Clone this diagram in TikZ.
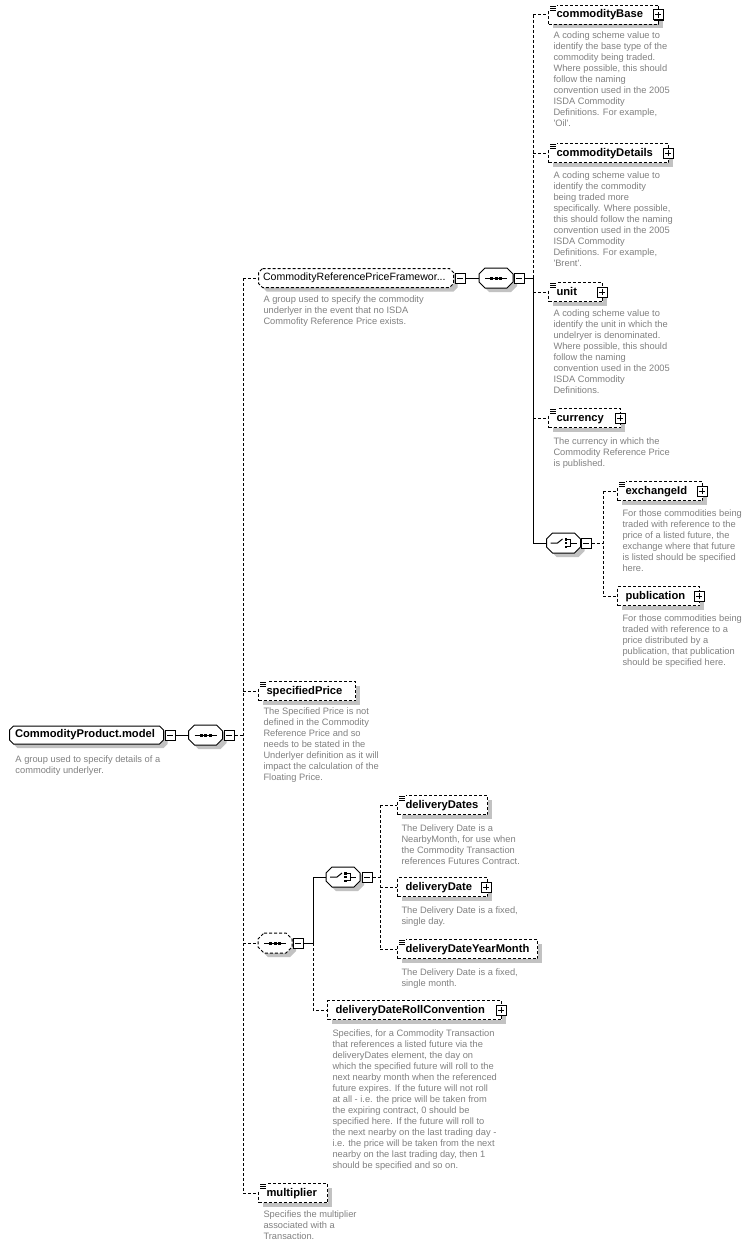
\documentclass[tikz,border=0pt]{standalone}
\usepackage{fontspec}
\setmainfont{Liberation Sans}
\usetikzlibrary{shadows}
\definecolor{shd}{gray}{0.76}
\definecolor{dtext}{gray}{0.5}
\newcommand\bfn{\fontsize{11.2}{13}\selectfont\bfseries}
\newcommand\rgn{\fontsize{10.6}{13}\selectfont}
\newcommand\dsc{\fontsize{9.3}{11}\selectfont}
\newcommand\octo[3]{\path[#3] ([xshift=#2]#1.north west) -- ([xshift=-#2]#1.north east) -- ([yshift=-#2]#1.north east) -- ([yshift=#2]#1.south east) -- ([xshift=-#2]#1.south east) -- ([xshift=#2]#1.south west) -- ([yshift=#2]#1.south west) -- ([yshift=-#2]#1.north west) -- cycle;}
\newcommand\octshape[3]{\octo{#1}{#2}{fill=shd,transform canvas={xshift=4pt,yshift=-4pt}}\octo{#1}{#2}{draw,fill=white,#3}}
\newcommand\seqsym[1]{\draw ([xshift=-11pt]#1.center) -- ([xshift=11pt]#1.center);
  \fill ([xshift=-6pt,yshift=1.5pt]#1.center) rectangle +(3,3);
  \fill ([xshift=-1.5pt,yshift=1.5pt]#1.center) rectangle +(3,3);
  \fill ([xshift=3pt,yshift=1.5pt]#1.center) rectangle +(3,3);}
\newcommand\chsym[1]{\draw (#1.center) ++(-13,0) -- ++(7,0) -- ++(5,-4);
  \fill ([xshift=1pt,yshift=5pt]#1.center) rectangle +(2.5,2.5);
  \fill ([xshift=1pt,yshift=1.25pt]#1.center) rectangle +(2.5,2.5);
  \fill ([xshift=1pt,yshift=-2.5pt]#1.center) rectangle +(2.5,2.5);
  \draw[line width=.8pt] ([xshift=3.5pt,yshift=3.75pt]#1.center) -- ++(3.5,0) -- ++(0,7.5) -- ++(-3.5,0);
  \draw ([xshift=7pt]#1.center) -- ++(6,0);}
\newcommand\annot[1]{\fill[white] ([xshift=-1pt,yshift=1pt]#1.north west) rectangle ([xshift=9pt,yshift=-6.5pt]#1.north west);
  \draw[line width=.8pt] ([xshift=2pt,yshift=-1pt]#1.north west) -- +(6,0) +(0,2) -- +(6,2) +(0,4) -- +(6,4);}
\begin{document}
\begin{tikzpicture}[x=1pt,y=-1pt,line width=1pt,
  dsh/.style={dash pattern=on 3pt off 2pt},
  elem/.style={draw,fill=white,dsh,minimum height=19pt,inner xsep=8pt,inner ysep=0pt,anchor=west,font=\bfn,align=left,text height=8pt,text depth=2pt,
    drop shadow={shadow xshift=4pt,shadow yshift=-4pt,fill=shd,opacity=1}},
  comp/.style={minimum width=33pt,minimum height=19pt,inner sep=0pt},
  pmbox/.style={draw,fill=white,minimum size=10pt,inner sep=0pt,line width=1pt,solid,
    drop shadow={shadow xshift=1pt,shadow yshift=-1pt,fill=black,opacity=1}},
  mbox/.style={pmbox,path picture={\draw[line width=1pt] ([xshift=-3pt]path picture bounding box.center) -- ([xshift=3pt]path picture bounding box.center);}},
  pbox/.style={pmbox,path picture={\draw[line width=1pt] ([xshift=-3pt]path picture bounding box.center) -- ([xshift=3pt]path picture bounding box.center) ([yshift=-3pt]path picture bounding box.center) -- ([yshift=3pt]path picture bounding box.center);}},
  desc/.style={anchor=north west,inner sep=0pt,font=\dsc,text=dtext,align=left}]
\useasboundingbox (0,0) rectangle (750,1247);

% ---------- root ----------
\node[comp,minimum width=153pt,minimum height=17pt] (root) at (86.5,735) {};
\octshape{root}{4pt}{}
\node[font=\bfn,anchor=west,inner sep=0pt] (roott) at ([xshift=5pt]root.west) {CommodityProduct.model};
\node[mbox] (rootm) at (170,735) {};
\node[desc] (rootd) at (15,755.5) {A group used to specify details of a\\commodity underlyer.};

\node[comp] (s1) at (205.5,735) {};
\octshape{s1}{6pt}{}
\seqsym{s1}
\node[mbox] (s1m) at (229,735) {};
\draw (rootm.east) -- (s1.west);
\coordinate (v1) at (243,735);
\draw[dsh] (s1m.east) -- (v1);

% ---------- group ----------
\node[comp,minimum width=194pt,minimum height=18pt] (grp) at (356,278) {};
\octshape{grp}{4pt}{dsh}
\node[font=\rgn,anchor=west,inner sep=0pt] (grpt) at ([xshift=4pt]grp.west) {CommodityReferencePriceFramewor...};
\node[mbox] (grpm) at (460,278) {};
\node[desc] (grpd) at (263,295.5) {A group used to specify the commodity\\underlyer in the event that no ISDA\\Commofity Reference Price exists.};

\node[comp] (s2) at (496,278) {};
\octshape{s2}{6pt}{}
\seqsym{s2}
\node[mbox] (s2m) at (519,278) {};
\draw (grpm.east) -- (s2.west);
\coordinate (v2) at (533,278);
\draw (s2m.east) -- (v2);

% elements of inner sequence
\node[elem,text width=94pt] (cb) at (548,15) {commodityBase};
\annot{cb}
\node[pbox] (cbp) at ([xshift=-1pt]cb.east) {};
\node[desc] (cbd) at (553,31.5) {A coding scheme value to\\identify the base type of the\\commodity being traded.\\Where possible, this should\\follow the naming\\convention used in the 2005\\ISDA Commodity\\Definitions. For example,\\\textquotesingle Oil\textquotesingle .};

\node[elem,text width=104pt] (cd) at (548,153) {commodityDetails};
\annot{cd}
\node[pbox] (cdp) at ([xshift=-1pt]cd.east) {};
\node[desc] (cdd) at (553,171.5) {A coding scheme value to\\identify the commodity\\being traded more\\specifically. Where possible,\\this should follow the naming\\convention used in the 2005\\ISDA Commodity\\Definitions. For example,\\\textquotesingle Brent\textquotesingle .};

\node[elem,text width=38pt] (unit) at (548,292) {unit};
\annot{unit}
\node[pbox] (unitp) at ([xshift=-1pt]unit.east) {};
\node[desc] (unitd) at (553,309.5) {A coding scheme value to\\identify the unit in which the\\undelryer is denominated.\\Where possible, this should\\follow the naming\\convention used in the 2005\\ISDA Commodity\\Definitions.};

\node[elem,text width=56pt] (cur) at (548,418) {currency};
\annot{cur}
\node[pbox] (curp) at ([xshift=-1pt]cur.east) {};
\node[desc] (curd) at (553,437.5) {The currency in which the\\Commodity Reference Price\\is published.};

\node[comp] (ch1) at (563.5,543) {};
\octshape{ch1}{6pt}{}
\chsym{ch1}
\node[mbox] (ch1m) at (586,543) {};
\coordinate (v3) at (603,543);
\draw[dsh] (ch1m.east) -- (v3);

\node[elem,text width=69pt] (exch) at (617,491) {exchangeId};
\annot{exch}
\node[pbox] (exchp) at ([xshift=-1pt]exch.east) {};
\node[desc] (exchd) at (622,509.5) {For those commodities being\\traded with reference to the\\price of a listed future, the\\exchange where that future\\is listed should be specified\\here.};

\node[elem,text width=66pt] (pub) at (617,596) {publication};
\node[pbox] (pubp) at ([xshift=-1pt]pub.east) {};
\node[desc] (pubd) at (622,614.5) {For those commodities being\\traded with reference to a\\price distributed by a\\publication, that publication\\should be specified here.};

% connectors of inner sequence
\draw[dsh] (cb.west -| v2) -- (v2);
\draw (v2) -- (ch1.west -| v2) -- (ch1.west);
\foreach \n in {cb,cd,unit,cur} \draw[dsh] (\n.west -| v2) -- (\n.west);
\draw[dsh] (exch.west -| v3) -- (pub.west -| v3);
\draw[dsh] (exch.west -| v3) -- (exch.west);
\draw[dsh] (pub.west -| v3) -- (pub.west);

% ---------- specifiedPrice ----------
\node[elem,text width=81pt] (sp) at (258,691) {specifiedPrice};
\annot{sp}
\node[desc] (spd) at (263,707.5) {The Specified Price is not\\defined in the Commodity\\Reference Price and so\\needs to be stated in the\\Underlyer definition as it will\\impact the calculation of the\\Floating Price.};

% ---------- optional sequence ----------
\node[comp] (s3) at (275,943) {};
\octshape{s3}{6pt}{dsh}
\seqsym{s3}
\node[mbox] (s3m) at (298,943) {};
\coordinate (v4) at (313,943);
\draw (s3m.east) -- (v4);

\node[comp] (ch2) at (343,877) {};
\octshape{ch2}{6pt}{}
\chsym{ch2}
\node[mbox] (ch2m) at (367,877) {};
\draw (v4) -- (ch2.west -| v4) -- (ch2.west);
\coordinate (v5) at (380,877);
\draw[dsh] (ch2m.east) -- (v5);

\node[elem,text width=74pt] (dds) at (397,805) {deliveryDates};
\annot{dds}
\node[desc] (ddsd) at (401,824.5) {The Delivery Date is a\\NearbyMonth, for use when\\the Commodity Transaction\\references Futures Contract.};

\node[elem,text width=74pt] (dd) at (397,887) {deliveryDate};
\node[pbox] (ddp) at ([xshift=-2pt]dd.east) {};
\node[desc] (ddd) at (401,906.5) {The Delivery Date is a fixed,\\single day.};

\node[elem,text width=124pt] (ddym) at (397,949) {deliveryDateYearMonth};
\annot{ddym}
\node[desc] (ddymd) at (401,968.5) {The Delivery Date is a fixed,\\single month.};

\draw[dsh] (dds.west -| v5) -- (ddym.west -| v5);
\foreach \n in {dds,dd,ddym} \draw[dsh] (\n.west -| v5) -- (\n.west);

\node[elem,text width=158pt] (ddrc) at (327,1010) {deliveryDateRollConvention};
\node[pbox] (ddrcp) at ([xshift=-1pt]ddrc.east) {};
\node[desc] (ddrcd) at (332,1029.5) {Specifies, for a Commodity Transaction\\that references a listed future via the\\deliveryDates element, the day on\\which the specified future will roll to the\\next nearby month when the referenced\\future expires. If the future will not roll\\at all - i.e. the price will be taken from\\the expiring contract, 0 should be\\specified here. If the future will roll to\\the next nearby on the last trading day -\\i.e. the price will be taken from the next\\nearby on the last trading day, then 1\\should be specified and so on.};
\draw[dsh] (v4) -- (ddrc.west -| v4) -- (ddrc.west);

% ---------- multiplier ----------
\node[elem,text width=53pt] (mult) at (258,1193) {multiplier};
\annot{mult}
\node[desc] (multd) at (263,1210.5) {Specifies the multiplier\\associated with a\\Transaction.};

% main vertical
\draw[dsh] (grp.west -| v1) -- (mult.west -| v1);
\foreach \n in {grp,sp,s3,mult} \draw[dsh] (\n.west -| v1) -- (\n.west);
\end{tikzpicture}
\end{document}
